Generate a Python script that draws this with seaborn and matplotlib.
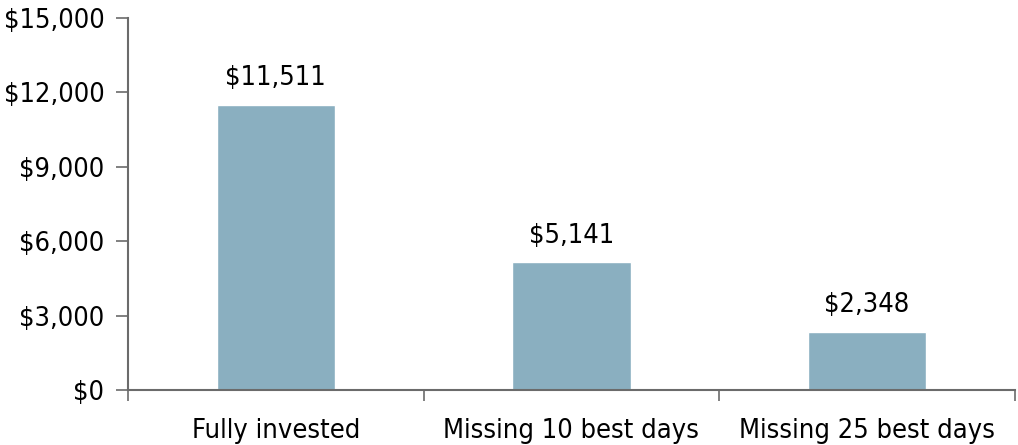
import numpy as np
import pandas as pd
import matplotlib.pyplot as plt
import seaborn as sns
from matplotlib.ticker import FuncFormatter, FixedLocator

categories = ["Fully invested", "Missing 10 best days", "Missing 25 best days"]
values = [11511, 5141, 2348]
y_ticks = [0, 3000, 6000, 9000, 12000, 15000]

df = pd.DataFrame({"scenario": categories, "value": values})

sns.set_style("white")
plt.rcParams['font.family'] = ["DejaVu Sans"]
plt.rcParams['font.stretch'] = "condensed"

fig = plt.figure(figsize=(10.18, 4.45), dpi=100)
ax = fig.add_axes([0.1257, 0.1236, 0.8713, 0.836])

sns.barplot(data=df, x="scenario", y="value", color="#8AAFC0", width=0.4,
            saturation=1, ax=ax)

axis_col = "#6b6b6b"
ax.set_xlim(-0.5, 2.5)
ax.set_ylim(0, 15000)
ax.set_yticks(y_ticks)
ax.yaxis.set_major_formatter(FuncFormatter(lambda v, p: "${:,.0f}".format(v)))
ax.tick_params(axis="y", direction="out", length=9, width=1.2, color=axis_col,
               labelsize=19.5, pad=8, left=True, labelcolor="black")
ax.tick_params(axis="x", which="major", length=0, labelsize=19.5, pad=20,
               labelcolor="black")
ax.xaxis.set_minor_locator(FixedLocator([-0.5, 0.5, 1.5, 2.5]))
ax.tick_params(axis="x", which="minor", direction="out", length=8, width=1.2,
               color=axis_col, bottom=True)
ax.set_xlabel("")
ax.set_ylabel("")

for s in ["top", "right"]:
    ax.spines[s].set_visible(False)
for s in ["left", "bottom"]:
    ax.spines[s].set_color(axis_col)
    ax.spines[s].set_linewidth(1.5)

for i, v in enumerate(values):
    ax.text(i, v + 550, "${:,}".format(v), ha="center", va="bottom", fontsize=19.5,
            color="black")

plt.savefig("out.png", dpi=100)
